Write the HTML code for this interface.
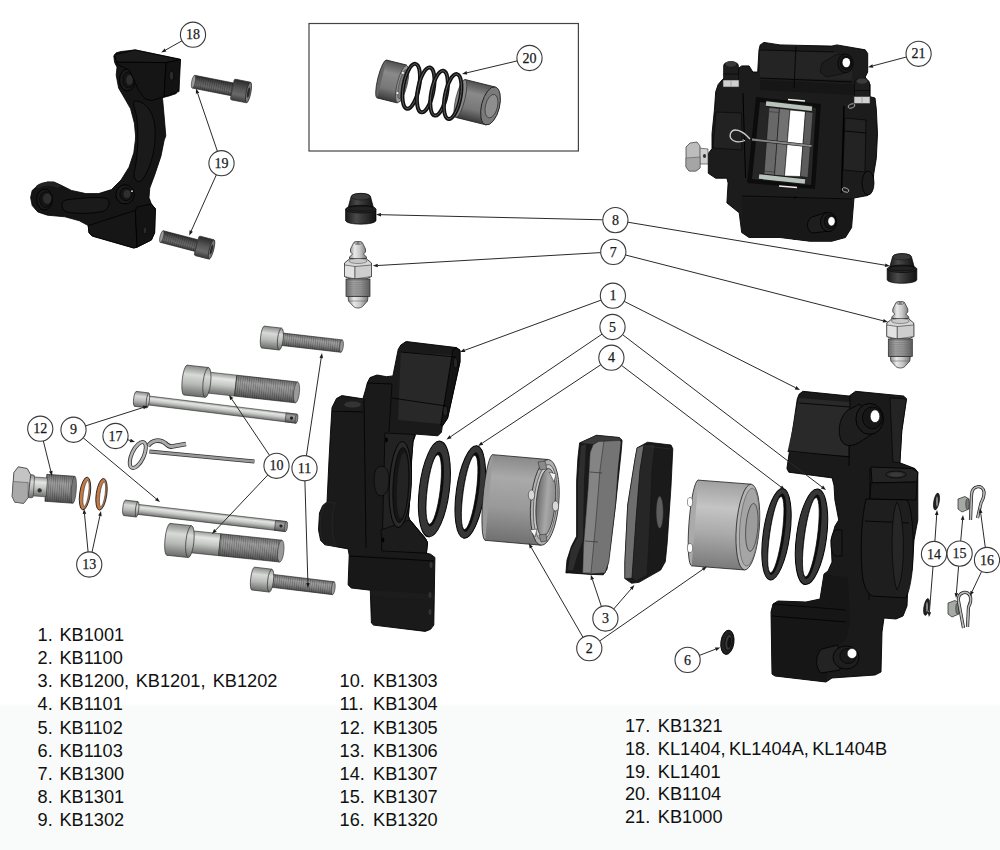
<!DOCTYPE html>
<html><head><meta charset="utf-8"><style>
html,body{margin:0;padding:0;width:1000px;height:850px;overflow:hidden;background:#fff}
svg{display:block}
.lst text{font-family:"Liberation Sans",sans-serif;font-size:18.2px;fill:#111}
.co circle{fill:#fff;stroke:#3a3a3a;stroke-width:1.1}
.co text{font-family:"Liberation Serif",serif;font-size:14px;fill:#1a1a1a;stroke:#1a1a1a;stroke-width:0.25;text-anchor:middle}
.ld line{stroke:#2a2a2a;stroke-width:1}
.ld .ah{fill:#1a1a1a}
</style></head><body>
<svg width="1000" height="850" viewBox="0 0 1000 850">
<defs>
<linearGradient id="bg" x1="0" y1="0" x2="0" y2="1">
<stop offset="0" stop-color="#ffffff"/><stop offset="1" stop-color="#f9fbfa"/>
</linearGradient>
</defs>
<rect x="0" y="0" width="1000" height="850" fill="#fff"/>
<rect x="0" y="703" width="1000" height="4" fill="url(#bg)"/>
<rect x="0" y="707" width="1000" height="143" fill="#f9fbfa"/>
<defs><linearGradient id="gMetal" x1="0" y1="0" x2="0" y2="1"><stop offset="0" stop-color="#9a9c9a"/><stop offset="0.25" stop-color="#e4e6e4"/><stop offset="0.55" stop-color="#c4c6c4"/><stop offset="1" stop-color="#6e706e"/></linearGradient><linearGradient id="gHead" x1="0" y1="0" x2="0" y2="1"><stop offset="0" stop-color="#8a8c8a"/><stop offset="0.3" stop-color="#d8dad8"/><stop offset="0.6" stop-color="#b8bab8"/><stop offset="1" stop-color="#6a6c6a"/></linearGradient><linearGradient id="gThread" x1="0" y1="0" x2="0" y2="1"><stop offset="0" stop-color="#6a6a6a"/><stop offset="0.3" stop-color="#a0a0a0"/><stop offset="0.6" stop-color="#8a8a8a"/><stop offset="1" stop-color="#505050"/></linearGradient><linearGradient id="gDarkT" x1="0" y1="0" x2="0" y2="1"><stop offset="0" stop-color="#3a3a3a"/><stop offset="0.3" stop-color="#6a6a6a"/><stop offset="0.6" stop-color="#5a5a5a"/><stop offset="1" stop-color="#2e2e2e"/></linearGradient><linearGradient id="gDark" x1="0" y1="0" x2="0" y2="1"><stop offset="0" stop-color="#3a3a3a"/><stop offset="0.3" stop-color="#6a6a6a"/><stop offset="0.6" stop-color="#555"/><stop offset="1" stop-color="#2a2a2a"/></linearGradient><linearGradient id="gPiston" x1="0" y1="0" x2="0" y2="1"><stop offset="0" stop-color="#7a7a7a"/><stop offset="0.3" stop-color="#b5b5b5"/><stop offset="0.65" stop-color="#a0a0a0"/><stop offset="1" stop-color="#6a6a6a"/></linearGradient><linearGradient id="gPistonH" x1="0" y1="0" x2="1" y2="0"><stop offset="0" stop-color="#7d7d7d"/><stop offset="0.35" stop-color="#a8a8a8"/><stop offset="0.7" stop-color="#b0b0b0"/><stop offset="1" stop-color="#8a8a8a"/></linearGradient><pattern id="thr" width="2.2" height="40" patternUnits="userSpaceOnUse"><rect width="2.2" height="40" fill="none"/><rect width="0.8" height="40" fill="#000" opacity="0.22"/></pattern><linearGradient id="gSpr" x1="0" y1="0" x2="0" y2="1"><stop offset="0" stop-color="#505050"/><stop offset="0.3" stop-color="#8a8a8a"/><stop offset="0.7" stop-color="#777"/><stop offset="1" stop-color="#3a3a3a"/></linearGradient><linearGradient id="gCap" x1="0" y1="0" x2="1" y2="0"><stop offset="0" stop-color="#1a1a1a"/><stop offset="0.35" stop-color="#4a4a4a"/><stop offset="0.6" stop-color="#333"/><stop offset="1" stop-color="#111"/></linearGradient><linearGradient id="gNip" x1="0" y1="0" x2="1" y2="0"><stop offset="0" stop-color="#8a8a8a"/><stop offset="0.3" stop-color="#e8e8e8"/><stop offset="0.6" stop-color="#c8c8c8"/><stop offset="1" stop-color="#777"/></linearGradient><linearGradient id="gNipT" x1="0" y1="0" x2="1" y2="0"><stop offset="0" stop-color="#6a6a6a"/><stop offset="0.3" stop-color="#a8a8a8"/><stop offset="0.6" stop-color="#999"/><stop offset="1" stop-color="#5a5a5a"/></linearGradient><linearGradient id="gPistV" x1="0" y1="0" x2="0" y2="1"><stop offset="0" stop-color="#8a8a8a"/><stop offset="0.25" stop-color="#a9a9a9"/><stop offset="0.6" stop-color="#999"/><stop offset="1" stop-color="#707070"/></linearGradient><linearGradient id="gPistR" x1="0" y1="0" x2="0" y2="1"><stop offset="0" stop-color="#a0a0a0"/><stop offset="0.3" stop-color="#c4c4c4"/><stop offset="0.6" stop-color="#aaa"/><stop offset="1" stop-color="#7a7a7a"/></linearGradient><linearGradient id="gCup" x1="0" y1="0" x2="1" y2="0"><stop offset="0" stop-color="#6a6a6a"/><stop offset="0.55" stop-color="#a8a8a8"/><stop offset="1" stop-color="#8a8a8a"/></linearGradient></defs>
<rect x="309" y="23.5" width="269.4" height="127.5" fill="none" stroke="#444" stroke-width="1.2"/>
<polygon points="113.8,56.0 116.2,52.8 121.0,51.5 135.4,49.9 180.2,59.2 179.4,72.0 176.2,93.6 169.0,96.0 162.6,97.6 162.6,99.2 164.2,116.8 165.8,136.0 164.2,140.0 161.0,156.0 154.6,175.2 149.8,188.0 149.0,197.6 151.4,204.0 155.4,208.8 154.6,232.8 151.4,240.0 137.0,247.2 133.8,248.0 92.2,236.0 89.0,232.8 88.2,225.6 79.4,220.8 65.0,216.8 47.4,215.2 37.8,212.0 32.2,205.6 30.6,197.6 32.2,190.4 37.8,185.6 47.4,181.9 53.8,181.9 60.2,184.8 71.4,190.4 85.8,193.6 98.6,193.6 111.4,189.6 121.0,180.0 129.0,167.2 133.8,152.8 135.4,140.0 135.6,136.0 134.4,123.2 130.6,108.8 124.2,97.6 118.6,88.0 116.2,75.2 117.0,67.2 114.6,62.4" fill="#151515" stroke="#000" stroke-width="0.8" stroke-linejoin="round" />
<ellipse cx="127.5" cy="80" rx="8" ry="11" fill="#1a1a1a" stroke="#000" stroke-width="0.9"/>
<ellipse cx="128.5" cy="80" rx="5.5" ry="8" fill="#151515" stroke="#000" stroke-width="0.6"/>
<ellipse cx="129.5" cy="80" rx="3.3" ry="5" fill="#2e2e2e"/>
<polygon points="114.5,54.8 134.8,49.9 180.5,59.6 166.2,62.6 116.8,62.2" fill="#1a1a1a" stroke="#000" stroke-width="0.8" stroke-linejoin="round" />
<polygon points="116.8,62.2 166.2,62.6 164.0,96.8 152.0,100.5 145.2,99.0 138.5,90.0 132.5,76.5 128.8,69.8 117.5,64.5" fill="#151515" stroke="#000" stroke-width="0.8" stroke-linejoin="round" />
<polygon points="166.2,62.6 180.5,59.6 179.0,91.5 164.0,96.8" fill="#121212" stroke="#000" stroke-width="0.8" stroke-linejoin="round" />
<ellipse cx="171.5" cy="75.75" rx="2.2" ry="4.5" fill="#2a2a2a" stroke="#000" stroke-width="0.6"/>
<path d="M 36,186 C 44,180 54,181 62,186 L 57,188 C 50,185 43,185 38,189 Z" fill="#222" />
<ellipse cx="44.5" cy="199.5" rx="7.8" ry="10.4" fill="#1a1a1a" stroke="#000" stroke-width="0.9"/>
<ellipse cx="45.5" cy="199.5" rx="5.8" ry="7.8" fill="#151515" stroke="#000" stroke-width="0.6"/>
<ellipse cx="47.3" cy="198.5" rx="4.2" ry="5.2" fill="#2e2e2e"/>
<ellipse cx="125" cy="194.4" rx="9.2" ry="9.6" fill="#1a1a1a" stroke="#000" stroke-width="0.9"/>
<ellipse cx="126" cy="194.2" rx="6" ry="6.5" fill="#151515" stroke="#000" stroke-width="0.6"/>
<ellipse cx="127" cy="194" rx="3.5" ry="4" fill="#2e2e2e"/>
<ellipse cx="132" cy="191.2" rx="0.9" ry="0.9" fill="#ddd"/>
<ellipse cx="144" cy="229.5" rx="1.8" ry="3.4" fill="#444"/>
<path d="M 135,101 C 145,101 154,112 155,128 C 156,145 153,163 143,179 C 139,184 134,181 134,174 C 137,160 139,140 137,120 C 136,110 131,101 135,101 Z" fill="#1a1a1a" stroke="#000" stroke-width="0.8" stroke-linejoin="round" />
<path d="M 66,200 C 80,198 96,197 105,198 C 111,199 110,208 104,211 C 92,214 78,214 67,212 C 61,211 60,201 66,200 Z" fill="#1a1a1a" stroke="#000" stroke-width="0.8" stroke-linejoin="round" />
<polygon points="88.2,225.6 135.4,210.4 137.0,247.2 133.8,248.0 92.2,236.0 89.0,232.8" fill="#161616" stroke="#000" stroke-width="0.8" stroke-linejoin="round" />
<polygon points="135.4,210.4 137.0,207.0 151.4,204.0 155.4,208.8 154.6,232.8 151.4,240.0 137.0,247.2" fill="#131313" stroke="#000" stroke-width="0.8" stroke-linejoin="round" />
<ellipse cx="145" cy="230.4" rx="1.8" ry="3.4" fill="#2a2a2a" stroke="#000" stroke-width="0.5"/>
<ellipse cx="144" cy="229.5" rx="0" ry="0" fill="none"/>
<g transform="translate(249.0,92.6) rotate(-168.89)">
<rect x="17" y="-6.5" width="39.58003126084598" height="13" fill="url(#gDarkT)" stroke="#222" stroke-width="0.6"/>
<rect x="17" y="-6.5" width="39.58003126084598" height="13" fill="url(#thr)"/>
<ellipse cx="56.58003126084598" cy="0" rx="1.8" ry="6.5" fill="#9a9a9a" stroke="#333" stroke-width="0.6"/>
<rect x="0" y="-10.5" width="17" height="21" rx="1.5" fill="url(#gDark)" stroke="#333" stroke-width="0.7"/>
<ellipse cx="0.5" cy="0" rx="2.3" ry="10.5" fill="#777" stroke="#222" stroke-width="0.7"/>
<ellipse cx="0.5" cy="0" rx="1.3" ry="5.2" fill="#2a2a2a"/>
</g>
<g transform="translate(212.0,249.6) rotate(-165.44)">
<rect x="16" y="-6.0" width="35.899243850928514" height="12" fill="url(#gDarkT)" stroke="#222" stroke-width="0.6"/>
<rect x="16" y="-6.0" width="35.899243850928514" height="12" fill="url(#thr)"/>
<ellipse cx="51.899243850928514" cy="0" rx="1.7" ry="6.0" fill="#9a9a9a" stroke="#333" stroke-width="0.6"/>
<rect x="0" y="-10.0" width="16" height="20" rx="1.5" fill="url(#gDark)" stroke="#333" stroke-width="0.7"/>
<ellipse cx="0.5" cy="0" rx="2.2" ry="10.0" fill="#777" stroke="#222" stroke-width="0.7"/>
<ellipse cx="0.5" cy="0" rx="1.2" ry="5.0" fill="#2a2a2a"/>
</g>
<g transform="translate(381.8,79.0) rotate(13.90)">
<ellipse cx="0" cy="0" rx="4" ry="19.5" fill="#666" stroke="#222" stroke-width="0.8"/>
<rect x="0" y="-19.5" width="21" height="39" fill="url(#gSpr)"/>
<line x1="0" y1="-19.5" x2="21" y2="-19.5" stroke="#222" stroke-width="0.8"/><line x1="0" y1="19.5" x2="21" y2="19.5" stroke="#222" stroke-width="0.8"/>
<ellipse cx="21" cy="0" rx="5" ry="19" fill="#9a9a9a" stroke="#333" stroke-width="0.7"/>
<ellipse cx="21.5" cy="0" rx="3.6" ry="15" fill="#7a7a7a" stroke="#333" stroke-width="0.5"/>
<circle cx="19" cy="-11" r="1.4" fill="#fff" stroke="#333" stroke-width="0.4"/><circle cx="18.5" cy="10" r="1.4" fill="#fff" stroke="#333" stroke-width="0.4"/>
<rect x="81" y="-19.5" width="31" height="39" fill="url(#gSpr)" stroke="#222" stroke-width="0.8"/>
<ellipse cx="81" cy="0" rx="4.5" ry="19.5" fill="#888" stroke="#333" stroke-width="0.7"/>
<ellipse cx="112" cy="0" rx="9" ry="19.5" fill="#7a7a7a" stroke="#222" stroke-width="0.9"/>
<ellipse cx="113" cy="0" rx="6" ry="12" fill="#8e8e8e" stroke="#333" stroke-width="0.7"/>
<ellipse cx="30.3" cy="0" rx="7.8" ry="22.8" fill="none" stroke="#111" stroke-width="4" transform="rotate(-3 30.3 0)"/>
<ellipse cx="30.3" cy="0" rx="7.8" ry="22.8" fill="none" stroke="#777" stroke-width="0.7" transform="rotate(-3 30.3 0)"/>
<ellipse cx="45.2" cy="0" rx="7.8" ry="22.8" fill="none" stroke="#111" stroke-width="4" transform="rotate(-3 45.2 0)"/>
<ellipse cx="45.2" cy="0" rx="7.8" ry="22.8" fill="none" stroke="#777" stroke-width="0.7" transform="rotate(-3 45.2 0)"/>
<ellipse cx="59" cy="0" rx="7.8" ry="22.8" fill="none" stroke="#111" stroke-width="4" transform="rotate(-3 59 0)"/>
<ellipse cx="59" cy="0" rx="7.8" ry="22.8" fill="none" stroke="#777" stroke-width="0.7" transform="rotate(-3 59 0)"/>
<ellipse cx="73" cy="0" rx="7.8" ry="22.8" fill="none" stroke="#111" stroke-width="4" transform="rotate(-3 73 0)"/>
<ellipse cx="73" cy="0" rx="7.8" ry="22.8" fill="none" stroke="#777" stroke-width="0.7" transform="rotate(-3 73 0)"/>
</g>
<polygon points="760.2,44.9 763.9,42.4 780.0,44.9 831.9,46.1 836.8,44.9 865.2,49.8 867.7,53.5 867.7,72.0 865.2,77.0 870.1,84.4 870.1,96.7 875.0,98.0 876.3,109.0 877.5,133.8 876.3,158.5 873.8,173.3 872.6,188.0 867.7,195.5 854.0,198.0 852.8,212.8 851.6,227.6 845.4,237.5 831.9,241.2 809.6,241.2 780.0,237.5 749.1,237.5 741.7,232.5 739.2,212.8 726.9,202.9 728.1,183.1 726.9,178.2 715.7,178.2 708.3,173.3 708.3,153.5 712.0,148.6 712.0,133.8 714.5,109.0 715.7,91.8 718.2,84.4 722.0,80.0 741.7,65.9 749.1,65.9 752.8,72.0 757.7,72.0 759.0,49.8" fill="#1c1c1c" stroke="#000" stroke-width="0.9" stroke-linejoin="round" />
<polygon points="760.0,50.0 834.0,52.0 852.0,60.0 852.0,80.0 760.0,78.0" fill="#242424" />
<polygon points="760.0,80.0 865.0,85.0 870.0,97.0 852.0,95.0 760.0,90.0" fill="#161616" />
<line x1="796" y1="46" x2="794" y2="88" stroke="#000" stroke-width="0.8"/>
<line x1="760" y1="78" x2="852" y2="82" stroke="#000" stroke-width="0.8"/>
<line x1="760" y1="50" x2="834" y2="52" stroke="#000" stroke-width="0.7"/>
<line x1="742" y1="196" x2="852" y2="199" stroke="#000" stroke-width="0.8"/>
<line x1="795" y1="196" x2="794" y2="240" stroke="#000" stroke-width="0.8"/>
<polygon points="742.0,198.0 852.0,200.0 851.6,227.6 845.4,237.5 831.9,241.2 809.6,241.2 780.0,237.5 749.1,237.5 741.7,232.5" fill="#181818" />
<polygon points="845.0,118.0 866.0,120.0 865.0,172.0 843.0,170.0" fill="#232323" stroke="#000" stroke-width="0.6" stroke-linejoin="round" />
<line x1="845" y1="131" x2="866" y2="133" stroke="#000" stroke-width="0.8"/>
<line x1="844" y1="106" x2="841.5" y2="193" stroke="#000" stroke-width="1.4"/>
<ellipse cx="868" cy="183" rx="6" ry="12" fill="#1c1c1c" stroke="#000" stroke-width="0.8"/>
<ellipse cx="851.5" cy="106" rx="3.5" ry="2" fill="none" stroke="#aaa" stroke-width="0.9" transform="rotate(-20 851.5 106)"/>
<ellipse cx="845.5" cy="190" rx="3.5" ry="2" fill="none" stroke="#aaa" stroke-width="0.9" transform="rotate(20 845.5 190)"/>
<polygon points="756.0,97.0 821.0,104.0 815.0,189.0 747.0,183.0" fill="#0c0c0c" />
<polygon points="760.0,102.0 816.0,108.0 811.0,185.0 752.0,179.0" fill="#262626" />
<polygon points="769.0,107.5 779.5,108.5 774.5,175.5 764.0,174.5" fill="#686868" stroke="#111" stroke-width="0.5" stroke-linejoin="round" />
<polygon points="779.5,108.5 790.0,109.5 784.5,176.0 774.5,175.5" fill="#717171" stroke="#111" stroke-width="0.5" stroke-linejoin="round" />
<polygon points="790.0,110.0 805.5,111.5 800.5,176.5 784.5,176.0" fill="#ffffff" stroke="#111" stroke-width="0.5" stroke-linejoin="round" />
<polygon points="805.5,111.5 813.0,112.5 808.0,177.5 800.5,176.5" fill="#5c5c5c" stroke="#111" stroke-width="0.5" stroke-linejoin="round" />
<line x1="768" y1="111.5" x2="779" y2="112.5" stroke="#333" stroke-width="0.6"/>
<line x1="763" y1="171" x2="774" y2="172" stroke="#333" stroke-width="0.6"/>
<line x1="766" y1="103.5" x2="812" y2="108.8" stroke="#1a1a1a" stroke-width="6.6"/>
<line x1="766" y1="103.5" x2="812" y2="108.8" stroke="#b7c3bb" stroke-width="4.6"/>
<line x1="759" y1="176.5" x2="805" y2="181.5" stroke="#1a1a1a" stroke-width="6.6"/>
<line x1="759" y1="176.5" x2="805" y2="181.5" stroke="#b7c3bb" stroke-width="4.6"/>
<line x1="788" y1="99.5" x2="805" y2="101" stroke="#eee" stroke-width="1.5"/>
<line x1="779" y1="186" x2="797" y2="187.5" stroke="#eee" stroke-width="1.5"/>
<line x1="752" y1="139.5" x2="811.5" y2="146" stroke="#222" stroke-width="3.2"/>
<line x1="752" y1="139.5" x2="811.5" y2="146" stroke="#8a8a8a" stroke-width="1.8"/>
<path d="M 749,138 C 742,130 733,128 731,134 C 729,140 736,143 744,140" fill="none" stroke="#ccc" stroke-width="1.5" stroke-linejoin="round" />
<path d="M 826,212.5 L 812,217 C 806,220 806,230 812,233 L 830,231 Z" fill="#1e1e1e" stroke="#000" stroke-width="0.8" stroke-linejoin="round" />
<ellipse cx="828.5" cy="222" rx="8" ry="9.5" fill="#1c1c1c" stroke="#000" stroke-width="0.9"/>
<ellipse cx="830" cy="221.6" rx="5.8" ry="7" fill="#151515" stroke="#000" stroke-width="0.6"/>
<ellipse cx="831.5" cy="221.3" rx="3.6" ry="4.6" fill="#fff" stroke="#000" stroke-width="0.5"/>
<line x1="743" y1="93" x2="745.5" y2="178" stroke="#000" stroke-width="1.0"/>
<polygon points="716.0,112.0 741.5,113.0 742.0,150.0 713.0,148.0" fill="#222" stroke="#000" stroke-width="0.5" stroke-linejoin="round" />
<path d="M 723.5,80 L 723.5,66 C 723.5,60 738.5,60 738.5,66 L 738.5,80 Z" fill="#1e1e1e" stroke="#000" stroke-width="0.6" stroke-linejoin="round" />
<ellipse cx="731" cy="64" rx="5.5" ry="2.8" fill="#3a3a3a"/>
<line x1="723.5" y1="74" x2="738.5" y2="74" stroke="#000" stroke-width="0.6"/>
<polygon points="723.0,80.0 739.0,80.0 739.0,87.0 723.0,87.0" fill="#d0d0d0" stroke="#333" stroke-width="0.6" stroke-linejoin="round" />
<line x1="731" y1="80" x2="731" y2="87" stroke="#888" stroke-width="0.6"/>
<path d="M 854.5,96.5 L 854.5,83 C 854.5,77 869.5,77 869.5,83 L 869.5,96.5 Z" fill="#1e1e1e" stroke="#000" stroke-width="0.6" stroke-linejoin="round" />
<ellipse cx="862" cy="81" rx="5.5" ry="2.8" fill="#3a3a3a"/>
<line x1="854.5" y1="90.5" x2="869.5" y2="90.5" stroke="#000" stroke-width="0.6"/>
<polygon points="854.0,96.5 870.0,96.5 870.0,103.5 854.0,103.5" fill="#d0d0d0" stroke="#333" stroke-width="0.6" stroke-linejoin="round" />
<line x1="862" y1="96.5" x2="862" y2="103.5" stroke="#888" stroke-width="0.6"/>
<polygon points="699.0,148.0 708.0,149.0 708.0,164.0 699.0,164.0" fill="#cfcfcf" stroke="#333" stroke-width="0.6" stroke-linejoin="round" />
<ellipse cx="704.5" cy="156" rx="1.6" ry="2" fill="#333"/>
<polygon points="686.0,147.0 690.0,143.0 697.0,142.0 700.0,146.0 700.0,168.0 696.0,171.0 689.0,171.0 686.0,167.0" fill="#bdbdbd" stroke="#333" stroke-width="0.7" stroke-linejoin="round" />
<polygon points="686.0,158.0 700.0,157.0 700.0,168.0 696.0,171.0 689.0,171.0 686.0,167.0" fill="#a5a5a5" stroke="#444" stroke-width="0.5" stroke-linejoin="round" />
<polygon points="835.0,55.0 845.0,54.0 852.0,60.0 851.0,70.0 842.0,74.0 826.0,77.0 820.0,72.0 822.0,63.0" fill="#1d1d1d" stroke="#0a0a0a" stroke-width="0.6" stroke-linejoin="round" />
<ellipse cx="845.5" cy="63.4" rx="7.6" ry="9.3" fill="#1a1a1a" stroke="#000" stroke-width="0.7"/>
<ellipse cx="846" cy="63" rx="5.5" ry="6.8" fill="#141414" stroke="#000" stroke-width="0.5"/>
<ellipse cx="846.3" cy="62.6" rx="3.8" ry="4.7" fill="#fff"/>
<path d="M 351.072,196.76399999999998 C 351.68,192.2 369.92,192.2 370.528,196.76399999999998 L 373.872,209.152 L 347.728,209.152 Z" fill="url(#gCap)" stroke="#000" stroke-width="0.7" stroke-linejoin="round" />
<ellipse cx="360.8" cy="196.76399999999998" rx="9.424" ry="3.2600000000000002" fill="#3a3a3a" stroke="#111" stroke-width="0.5"/>
<path d="M 345.6,209.152 L 376.0,209.152 L 376.0,220.236 C 376.0,225.452 345.6,225.452 345.6,220.236 Z" fill="url(#gCap)" stroke="#000" stroke-width="0.7" stroke-linejoin="round" />
<ellipse cx="360.8" cy="209.152" rx="15.2" ry="3.912" fill="#2a2a2a" stroke="#000" stroke-width="0.6"/>
<ellipse cx="360.8" cy="208.652" rx="13.072" ry="2.608" fill="#222" stroke="#000" stroke-width="0.5"/>
<path d="M 892.528,256.896 C 893.12,252.5 910.88,252.5 911.4720000000001,256.896 L 914.7280000000001,268.828 L 889.272,268.828 Z" fill="url(#gCap)" stroke="#000" stroke-width="0.7" stroke-linejoin="round" />
<ellipse cx="902.0" cy="256.896" rx="9.176" ry="3.14" fill="#3a3a3a" stroke="#111" stroke-width="0.5"/>
<path d="M 887.2,268.828 L 916.8000000000001,268.828 L 916.8000000000001,279.504 C 916.8000000000001,284.528 887.2,284.528 887.2,279.504 Z" fill="url(#gCap)" stroke="#000" stroke-width="0.7" stroke-linejoin="round" />
<ellipse cx="902.0" cy="268.828" rx="14.8" ry="3.768" fill="#2a2a2a" stroke="#000" stroke-width="0.6"/>
<ellipse cx="902.0" cy="268.328" rx="12.728" ry="2.512" fill="#222" stroke="#000" stroke-width="0.5"/>
<path d="M 353.5,243 C 353.5,241 362.5,241 362.5,243 L 365.5,249 L 365.5,252 L 363.5,254 L 366.5,257 L 366.5,261 L 349.5,261 L 349.5,257 L 352.5,254 L 350.5,252 L 350.5,249 Z" fill="url(#gNip)" stroke="#222" stroke-width="0.7" stroke-linejoin="round" />
<ellipse cx="358" cy="243" rx="3.6" ry="1.5" fill="#ccc" stroke="#333" stroke-width="0.5"/>
<ellipse cx="358" cy="243" rx="1.8" ry="0.8" fill="#555"/>
<path d="M 344.5,263 L 350,258.5 L 366,258.5 L 371.5,263 L 371.5,276.5 L 366,279 L 350,279 L 344.5,276.5 Z" fill="#d6d6d6" stroke="#222" stroke-width="0.8" stroke-linejoin="round" />
<ellipse cx="358" cy="261" rx="9" ry="2.5" fill="#c8c8c8" stroke="#444" stroke-width="0.5"/>
<polygon points="344.5,265.0 355.0,266.5 355.0,279.0 344.5,276.5" fill="#e2e2e2" stroke="#333" stroke-width="0.6" stroke-linejoin="round" />
<polygon points="355.0,266.5 371.5,265.0 371.5,276.5 355.0,279.0" fill="#cdcdcd" stroke="#333" stroke-width="0.6" stroke-linejoin="round" />
<rect x="346" y="279" width="24" height="17.5" fill="url(#gNipT)" stroke="#222" stroke-width="0.7"/>
<line x1="346" y1="280.5" x2="370" y2="280.5" stroke="#666" stroke-width="0.45"/>
<line x1="346" y1="282.4" x2="370" y2="282.4" stroke="#666" stroke-width="0.45"/>
<line x1="346" y1="284.3" x2="370" y2="284.3" stroke="#666" stroke-width="0.45"/>
<line x1="346" y1="286.2" x2="370" y2="286.2" stroke="#666" stroke-width="0.45"/>
<line x1="346" y1="288.1" x2="370" y2="288.1" stroke="#666" stroke-width="0.45"/>
<line x1="346" y1="290.0" x2="370" y2="290.0" stroke="#666" stroke-width="0.45"/>
<line x1="346" y1="291.9" x2="370" y2="291.9" stroke="#666" stroke-width="0.45"/>
<line x1="346" y1="293.8" x2="370" y2="293.8" stroke="#666" stroke-width="0.45"/>
<line x1="346" y1="295.7" x2="370" y2="295.7" stroke="#666" stroke-width="0.45"/>
<path d="M 348,296.5 L 368,296.5 L 367.5,301 L 362.5,306.5 C 360,308.5 356,308.5 353.5,306.5 L 348.5,301 Z" fill="url(#gNip)" stroke="#222" stroke-width="0.7" stroke-linejoin="round" />
<line x1="348.5" y1="301" x2="367.5" y2="301" stroke="#555" stroke-width="0.5"/>
<path d="M 895.8,303 C 895.8,301 904.8,301 904.8,303 L 907.8,309 L 907.8,312 L 905.8,314 L 908.8,317 L 908.8,321 L 891.8,321 L 891.8,317 L 894.8,314 L 892.8,312 L 892.8,309 Z" fill="url(#gNip)" stroke="#222" stroke-width="0.7" stroke-linejoin="round" />
<ellipse cx="900.3" cy="303" rx="3.6" ry="1.5" fill="#ccc" stroke="#333" stroke-width="0.5"/>
<ellipse cx="900.3" cy="303" rx="1.8" ry="0.8" fill="#555"/>
<path d="M 886.8,323 L 892.3,318.5 L 908.3,318.5 L 913.8,323 L 913.8,336.5 L 908.3,339 L 892.3,339 L 886.8,336.5 Z" fill="#d6d6d6" stroke="#222" stroke-width="0.8" stroke-linejoin="round" />
<ellipse cx="900.3" cy="321" rx="9" ry="2.5" fill="#c8c8c8" stroke="#444" stroke-width="0.5"/>
<polygon points="886.8,325.0 897.3,326.5 897.3,339.0 886.8,336.5" fill="#e2e2e2" stroke="#333" stroke-width="0.6" stroke-linejoin="round" />
<polygon points="897.3,326.5 913.8,325.0 913.8,336.5 897.3,339.0" fill="#cdcdcd" stroke="#333" stroke-width="0.6" stroke-linejoin="round" />
<rect x="888.3" y="339" width="24" height="17.5" fill="url(#gNipT)" stroke="#222" stroke-width="0.7"/>
<line x1="888.3" y1="340.5" x2="912.3" y2="340.5" stroke="#666" stroke-width="0.45"/>
<line x1="888.3" y1="342.4" x2="912.3" y2="342.4" stroke="#666" stroke-width="0.45"/>
<line x1="888.3" y1="344.3" x2="912.3" y2="344.3" stroke="#666" stroke-width="0.45"/>
<line x1="888.3" y1="346.2" x2="912.3" y2="346.2" stroke="#666" stroke-width="0.45"/>
<line x1="888.3" y1="348.1" x2="912.3" y2="348.1" stroke="#666" stroke-width="0.45"/>
<line x1="888.3" y1="350.0" x2="912.3" y2="350.0" stroke="#666" stroke-width="0.45"/>
<line x1="888.3" y1="351.9" x2="912.3" y2="351.9" stroke="#666" stroke-width="0.45"/>
<line x1="888.3" y1="353.8" x2="912.3" y2="353.8" stroke="#666" stroke-width="0.45"/>
<line x1="888.3" y1="355.7" x2="912.3" y2="355.7" stroke="#666" stroke-width="0.45"/>
<path d="M 890.3,356.5 L 910.3,356.5 L 909.8,361 L 904.8,366.5 C 902.3,368.5 898.3,368.5 895.8,366.5 L 890.8,361 Z" fill="url(#gNip)" stroke="#222" stroke-width="0.7" stroke-linejoin="round" />
<line x1="890.8" y1="361" x2="909.8" y2="361" stroke="#555" stroke-width="0.5"/>
<polygon points="332.0,407.6 336.5,398.5 341.8,395.6 362.9,398.8 365.5,390.0 367.3,382.9 370.0,377.6 377.0,375.0 386.7,376.7 392.9,375.9 398.2,349.4 400.8,345.0 406.1,341.5 456.4,347.6 460.0,350.3 460.0,361.8 447.6,418.2 442.3,426.1 441.4,432.3 437.9,435.8 415.8,434.1 413.0,442.0 411.6,460.0 410.5,490.0 408.4,516.1 409.5,519.3 425.3,538.3 427.5,542.5 426.4,553.1 430.6,554.2 434.9,557.4 433.8,625.1 430.6,629.3 425.3,631.4 373.5,625.1 371.4,623.0 370.3,590.2 351.3,588.0 348.1,584.9 349.2,555.2 348.1,548.9 324.8,544.7 320.6,540.4 318.5,529.8 319.5,512.9 322.7,505.5 327.0,502.3 329.0,460.0 330.3,435.8" fill="#1a1a1a" stroke="#000" stroke-width="0.9" stroke-linejoin="round" />
<polygon points="400.8,352.0 452.0,355.0 441.0,424.0 398.0,420.0" fill="#282828" />
<polygon points="452.9,349.9 456.4,347.6 460.0,350.3 460.0,361.8 447.6,418.2 442.3,426.1 440.7,424.9" fill="#141414" stroke="#000" stroke-width="0.8" stroke-linejoin="round" />
<ellipse cx="455.5" cy="363" rx="2.2" ry="5" fill="#262626" stroke="#000" stroke-width="0.6"/>
<ellipse cx="445.3" cy="411" rx="2.2" ry="5" fill="#262626" stroke="#000" stroke-width="0.6"/>
<line x1="401" y1="352" x2="456" y2="357" stroke="#000" stroke-width="0.8"/>
<line x1="392" y1="398" x2="446" y2="406" stroke="#000" stroke-width="0.8"/>
<line x1="364" y1="399" x2="366" y2="548" stroke="#000" stroke-width="0.8"/>
<line x1="332" y1="411" x2="363" y2="412" stroke="#000" stroke-width="0.8"/>
<line x1="367" y1="383" x2="392" y2="384" stroke="#000" stroke-width="0.8"/>
<line x1="392" y1="384" x2="389" y2="432" stroke="#000" stroke-width="0.7"/>
<polygon points="332.0,407.6 336.5,398.5 362.9,398.8 362.0,410.0 333.0,411.0" fill="#1c1c1c" />
<ellipse cx="352.5" cy="404.5" rx="8" ry="2.6" fill="#333" stroke="#444" stroke-width="0.5"/>
<polygon points="370.0,590.0 370.0,596.0 433.8,600.0 433.8,594.0" fill="#1c1c1c" />
<polygon points="349.2,555.2 370.0,555.0 426.4,560.0 434.9,560.0 434.0,594.0 370.0,590.0 349.0,585.0" fill="#181818" />
<line x1="349" y1="556" x2="434" y2="561" stroke="#000" stroke-width="0.8"/>
<path d="M 327,502 C 319,505 318,540 324.8,544.7 L 336,546 C 331,538 331,508 336,503 Z" fill="#1b1b1b" stroke="#2c2c2c" stroke-width="0.6" stroke-linejoin="round" />
<polygon points="385.0,433.0 414.5,434.5 413.0,442.0 411.6,460.0 410.5,490.0 408.4,516.1 409.5,519.3 425.3,538.3 427.5,542.5 426.4,553.1 382.0,550.0" fill="#222" stroke="#000" stroke-width="0.7" stroke-linejoin="round" />
<polygon points="381.0,530.0 409.0,520.0 425.3,538.3 427.5,542.5 426.4,553.1 382.0,551.0" fill="#1c1c1c" stroke="#000" stroke-width="0.6" stroke-linejoin="round" />
<path d="M 377,468 C 383,464 389,467 389,480 C 389,492 384,498 378,495 C 373,490 373,472 377,468 Z" fill="#222" stroke="#000" stroke-width="0.6" stroke-linejoin="round" />
<ellipse cx="400.3" cy="484.5" rx="11" ry="43" fill="#2a2a2a" stroke="#000" stroke-width="0.9" transform="rotate(3 400.3 484.5)"/>
<ellipse cx="401" cy="485" rx="8" ry="37.5" fill="#151515" stroke="#000" stroke-width="0.6" transform="rotate(3 401 485)"/>
<ellipse cx="402.5" cy="485.5" rx="5.5" ry="33" fill="#232323" transform="rotate(3 402.5 485.5)"/>
<ellipse cx="386.5" cy="440" rx="1.3" ry="2.4" fill="#000"/>
<ellipse cx="383" cy="540" rx="1.3" ry="2.4" fill="#000"/>
<ellipse cx="431" cy="565" rx="1.5" ry="3" fill="#333"/>
<ellipse cx="430" cy="595" rx="1.5" ry="3" fill="#333"/>
<ellipse cx="430" cy="612" rx="1.5" ry="3" fill="#333"/>
<polygon points="799.2,394.1 802.9,391.3 849.1,396.0 855.6,391.3 903.6,396.0 906.5,398.8 901.8,430.8 899.9,462.8 914.9,468.5 917.8,472.2 917.8,520.0 914.0,540.0 912.0,570.0 908.0,584.0 907.0,606.0 903.0,616.0 896.0,619.0 884.0,618.0 882.0,632.0 881.0,672.0 875.0,675.0 832.0,678.0 826.0,682.0 775.0,676.0 772.0,674.0 771.0,612.0 773.0,604.0 778.0,601.0 806.0,602.0 820.0,599.0 824.0,574.0 828.0,571.0 832.0,562.0 831.0,540.0 835.0,526.0 838.7,520.0 836.8,510.0 834.9,500.0 834.0,485.4 832.1,477.9 788.8,472.2 786.9,468.5 797.3,398.8" fill="#1a1a1a" stroke="#000" stroke-width="0.9" stroke-linejoin="round" />
<polygon points="799.0,398.0 850.0,402.0 848.0,456.0 787.5,452.0" fill="#292929" />
<line x1="799" y1="403" x2="850" y2="407" stroke="#000" stroke-width="0.8"/>
<line x1="788" y1="451" x2="850" y2="457" stroke="#000" stroke-width="0.8"/>
<line x1="850" y1="396" x2="849" y2="466" stroke="#000" stroke-width="0.8"/>
<line x1="870" y1="468" x2="869" y2="600" stroke="#000" stroke-width="0.7"/>
<polygon points="890.0,398.0 906.5,398.8 901.8,430.8 899.9,462.8 893.0,462.0" fill="#242424" stroke="#000" stroke-width="0.6" stroke-linejoin="round" />
<path d="M 860,404 L 848,410 C 840,416 837,430 841,440 C 844,447 852,447 860,442 L 878,430 Z" fill="#1e1e1e" stroke="#000" stroke-width="0.8" stroke-linejoin="round" />
<ellipse cx="869.7" cy="418.9" rx="13.8" ry="15.4" fill="#1c1c1c" stroke="#000" stroke-width="0.9"/>
<ellipse cx="872.4" cy="417.8" rx="10" ry="11" fill="#161616" stroke="#000" stroke-width="0.7"/>
<ellipse cx="875" cy="416.2" rx="4.8" ry="6.4" fill="#fff" stroke="#000" stroke-width="0.6"/>
<polygon points="871.0,467.0 912.0,468.5 917.8,472.2 917.0,482.0 872.0,483.0" fill="#242424" stroke="#000" stroke-width="0.8" stroke-linejoin="round" />
<ellipse cx="896" cy="474.5" rx="10" ry="3.4" fill="#2e2e2e" stroke="#000" stroke-width="0.7"/>
<ellipse cx="896" cy="474.5" rx="6" ry="2" fill="#3a3a3a"/>
<polygon points="871.0,483.0 917.0,482.0 916.0,500.0 870.0,499.0" fill="#1a1a1a" stroke="#000" stroke-width="0.7" stroke-linejoin="round" />
<path d="M 866,499 C 862,515 860,545 862,570 C 863,585 866,592 872,596 L 906,598 C 912,585 914,560 913,535 C 912,515 910,505 907,500 Z" fill="#1e1e1e" stroke="#000" stroke-width="0.8" stroke-linejoin="round" />
<line x1="865" y1="521" x2="909" y2="523" stroke="#000" stroke-width="0.8"/>
<path d="M 897,502 C 905,515 906,575 897,590 C 891,575 890,515 897,502 Z" fill="#262626" stroke="#000" stroke-width="0.6" stroke-linejoin="round" />
<path d="M 836,530 C 830,532 829,552 835,556 L 842,556 L 842,530 Z" fill="#1c1c1c" stroke="#000" stroke-width="0.7" stroke-linejoin="round" />
<polygon points="771.0,612.0 773.0,604.0 778.0,601.0 806.0,602.0 820.0,599.0 824.0,574.0 848.0,578.0 850.0,622.0 846.0,640.0 830.0,650.0 826.0,682.0 775.0,676.0 772.0,674.0" fill="#161616" />
<line x1="772" y1="616" x2="846" y2="622" stroke="#000" stroke-width="0.8"/>
<line x1="773" y1="604" x2="846" y2="610" stroke="#000" stroke-width="0.7"/>
<path d="M 838,645 L 822,649 C 815,654 815,668 821,673 L 840,670 Z" fill="#232323" stroke="#000" stroke-width="0.8" stroke-linejoin="round" />
<ellipse cx="846" cy="657.5" rx="13" ry="11.5" fill="#1e1e1e" stroke="#000" stroke-width="0.8"/>
<ellipse cx="848" cy="656" rx="8.2" ry="7.5" fill="#191919" stroke="#000" stroke-width="0.6"/>
<ellipse cx="852" cy="653.5" rx="4.8" ry="5" fill="#fff" stroke="#000" stroke-width="0.5"/>
<g transform="rotate(7 434.4 489)">
<ellipse cx="434.4" cy="489" rx="15" ry="48.2" fill="#363636" stroke="#000" stroke-width="1"/>
<ellipse cx="434.7" cy="489" rx="8.1" ry="37.6" fill="#0c0c0c"/>
<ellipse cx="433.79999999999995" cy="489.5" rx="6.5" ry="35.0" fill="#fff" stroke="#000" stroke-width="0.7"/>
</g>
<g transform="rotate(8 470.3 492)">
<ellipse cx="470.3" cy="492" rx="14" ry="46.6" fill="#363636" stroke="#000" stroke-width="1"/>
<ellipse cx="470.6" cy="492" rx="8.1" ry="40.1" fill="#0c0c0c"/>
<ellipse cx="469.7" cy="492.5" rx="6.5" ry="37.5" fill="#fff" stroke="#000" stroke-width="0.7"/>
</g>
<g transform="rotate(8 776.5 534.2)">
<ellipse cx="776.5" cy="534.2" rx="13.3" ry="46.2" fill="#363636" stroke="#000" stroke-width="1"/>
<ellipse cx="776.8" cy="534.2" rx="7.8" ry="41.1" fill="#0c0c0c"/>
<ellipse cx="775.9" cy="534.7" rx="6.2" ry="38.5" fill="#fff" stroke="#000" stroke-width="0.7"/>
</g>
<g transform="rotate(7.7 811.5 536.8)">
<ellipse cx="811.5" cy="536.8" rx="15" ry="48.2" fill="#363636" stroke="#000" stroke-width="1"/>
<ellipse cx="811.8" cy="536.8" rx="8.1" ry="42.6" fill="#0c0c0c"/>
<ellipse cx="810.9" cy="537.3" rx="6.5" ry="40.0" fill="#fff" stroke="#000" stroke-width="0.7"/>
</g>
<g transform="translate(489.0,497.5) rotate(5.00)">
<ellipse cx="0" cy="0" rx="6" ry="43" fill="#9a9a9a" stroke="#222" stroke-width="0.8"/>
<rect x="0" y="-43" width="56" height="86" fill="url(#gPistV)"/>
<line x1="0" y1="-43" x2="56" y2="-43" stroke="#222" stroke-width="0.8"/><line x1="0" y1="43" x2="56" y2="43" stroke="#222" stroke-width="0.8"/>
<ellipse cx="56" cy="0" rx="14" ry="43" fill="#b0b0b0" stroke="#222" stroke-width="0.8"/>
<ellipse cx="56.5" cy="0" rx="11.5" ry="38" fill="#c8c8c8" stroke="#333" stroke-width="0.6"/>
<ellipse cx="57" cy="0" rx="9.5" ry="34" fill="url(#gCup)" stroke="#222" stroke-width="0.7"/>
</g>
<ellipse cx="531.5" cy="495" rx="3.2" ry="5" fill="#d8d8d8" stroke="#222" stroke-width="0.5"/>
<ellipse cx="555.5" cy="506" rx="3.2" ry="5" fill="#d8d8d8" stroke="#222" stroke-width="0.5"/>
<polygon points="549.0,472.0 556.0,474.0 554.0,482.0" fill="#f4f4f4" stroke="#222" stroke-width="0.5" stroke-linejoin="round" />
<polygon points="530.0,530.0 537.0,529.0 535.0,537.0" fill="#f4f4f4" stroke="#222" stroke-width="0.5" stroke-linejoin="round" />
<polygon points="538.0,462.0 545.0,461.0 547.0,469.0 540.0,470.0" fill="#8a8a8a" stroke="#222" stroke-width="0.5" stroke-linejoin="round" />
<polygon points="539.0,535.0 546.0,534.0 547.0,541.0 541.0,542.0" fill="#8a8a8a" stroke="#222" stroke-width="0.5" stroke-linejoin="round" />
<g transform="translate(695.0,523.0) rotate(4.40)">
<ellipse cx="0" cy="0" rx="6" ry="43" fill="#aaa" stroke="#222" stroke-width="0.8"/>
<rect x="0" y="-43" width="53" height="86" fill="url(#gPistR)"/>
<line x1="0" y1="-43" x2="53" y2="-43" stroke="#222" stroke-width="0.8"/><line x1="0" y1="43" x2="53" y2="43" stroke="#222" stroke-width="0.8"/>
<ellipse cx="53" cy="0" rx="11.5" ry="43" fill="#b3b3b3" stroke="#222" stroke-width="0.8"/>
<ellipse cx="54.5" cy="0" rx="9.5" ry="39" fill="#a5a5a5" stroke="#555" stroke-width="0.6"/>
<ellipse cx="57" cy="0" rx="6" ry="24" fill="#9c9c9c" stroke="#333" stroke-width="0.7"/>
</g>
<ellipse cx="690" cy="502" rx="2.6" ry="4.5" fill="#fff" stroke="#333" stroke-width="0.5"/>
<ellipse cx="690" cy="548" rx="2.6" ry="4.5" fill="#fff" stroke="#333" stroke-width="0.5"/>
<polygon points="579.6,443.0 596.5,435.3 619.2,437.5 622.1,440.3 621.1,452.6 615.5,505.2 610.8,542.8 607.0,569.2 603.3,574.8 590.3,574.4 569.4,572.9 565.9,572.9 567.0,560.0 571.3,546.6 576.6,536.2 576.6,481.2 577.9,458.2" fill="#1a1a1a" stroke="#000" stroke-width="0.8" stroke-linejoin="round" />
<polygon points="581.0,446.0 586.0,444.0 584.0,480.0 583.0,540.0 577.0,556.0 573.0,570.0 568.0,570.0 571.0,550.0 578.0,537.0 578.0,482.0" fill="#2e2e2e" />
<polygon points="593.4,444.0 598.6,440.3 619.2,438.5 621.1,442.2 618.3,467.6 615.5,505.2 608.9,561.7 605.1,572.9 590.0,574.0 582.7,572.9 583.5,546.6 588.2,486.4 590.1,452.6" fill="#747474" stroke="#111" stroke-width="0.6" stroke-linejoin="round" />
<polygon points="593.4,444.0 598.6,440.3 604.0,440.0 600.0,470.0 596.0,520.0 591.0,573.0 582.7,572.9 583.5,546.6 588.2,486.4 590.1,452.6" fill="#848484" stroke="#222" stroke-width="0.5" stroke-linejoin="round" />
<polygon points="596.5,435.3 619.2,437.5 622.1,440.3 598.6,441.5 593.4,444.5 579.6,443.0" fill="#3a3a3a" stroke="#111" stroke-width="0.4" stroke-linejoin="round" />
<line x1="590" y1="472" x2="602" y2="473" stroke="#333" stroke-width="0.7"/>
<line x1="585" y1="541" x2="598" y2="542" stroke="#333" stroke-width="0.7"/>
<polygon points="637.1,447.9 647.5,442.2 671.0,445.0 672.8,448.8 671.0,486.4 667.2,542.8 665.3,561.7 660.6,570.1 639.0,582.3 631.5,583.3 624.9,578.6 624.9,561.7 627.7,505.2 635.2,458.2" fill="#1a1a1a" stroke="#000" stroke-width="0.8" stroke-linejoin="round" />
<polygon points="637.1,447.9 644.0,445.0 640.0,470.0 636.0,520.0 632.0,578.0 624.9,578.6 624.9,561.7 627.7,505.2 635.2,458.2" fill="#6e6e6e" stroke="#111" stroke-width="0.5" stroke-linejoin="round" />
<polygon points="644.0,445.0 655.0,444.0 652.0,470.0 650.0,520.0 647.0,575.0 636.0,581.0 632.0,578.0 636.0,520.0 640.0,470.0" fill="#262626" stroke="#111" stroke-width="0.4" stroke-linejoin="round" />
<ellipse cx="659.7" cy="512.3" rx="3.6" ry="16" fill="#5e5e5e" stroke="#222" stroke-width="0.5"/>
<line x1="644" y1="446" x2="671" y2="449" stroke="#333" stroke-width="0.6"/>
<g transform="translate(262.5,337.0) rotate(6.56)">
<rect x="18" y="-6.25" width="61.527262464335635" height="12.5" fill="url(#gThread)" stroke="#222" stroke-width="0.6"/>
<rect x="18" y="-6.25" width="61.527262464335635" height="12.5" fill="url(#thr)"/>
<ellipse cx="79.52726246433564" cy="0" rx="1.8" ry="6.25" fill="#9a9a9a" stroke="#333" stroke-width="0.6"/>
<ellipse cx="0.5" cy="0" rx="2.4" ry="11.0" fill="url(#gHead)" stroke="#333" stroke-width="0.7"/>
<rect x="0.5" y="-11.0" width="17.5" height="22" fill="url(#gHead)"/>
<line x1="0.5" y1="-11.0" x2="18" y2="-11.0" stroke="#333" stroke-width="0.7"/><line x1="0.5" y1="11.0" x2="18" y2="11.0" stroke="#333" stroke-width="0.7"/>
<ellipse cx="18" cy="0" rx="2.8" ry="11.0" fill="url(#gHead)" stroke="#333" stroke-width="0.7"/>
</g>
<g transform="translate(185.0,380.0) rotate(6.34)">
<rect x="21" y="-10.5" width="30" height="21" fill="url(#gMetal)" stroke="#333" stroke-width="0.6"/>
<rect x="51" y="-10.5" width="61.19231422671771" height="21" fill="url(#gThread)" stroke="#222" stroke-width="0.6"/>
<rect x="51" y="-10.5" width="61.19231422671771" height="21" fill="url(#thr)"/>
<ellipse cx="112.19231422671771" cy="0" rx="2.9" ry="10.5" fill="#9a9a9a" stroke="#333" stroke-width="0.6"/>
<ellipse cx="0.5" cy="0" rx="3.3" ry="15.0" fill="url(#gHead)" stroke="#333" stroke-width="0.7"/>
<rect x="0.5" y="-15.0" width="21.5" height="30" fill="url(#gHead)"/>
<line x1="0.5" y1="-15.0" x2="22" y2="-15.0" stroke="#333" stroke-width="0.7"/><line x1="0.5" y1="15.0" x2="22" y2="15.0" stroke="#333" stroke-width="0.7"/>
<ellipse cx="22" cy="0" rx="3.8" ry="15.0" fill="url(#gHead)" stroke="#333" stroke-width="0.7"/>
</g>
<g transform="translate(135.0,398.8) rotate(7.02)">
<rect x="12" y="-4.5" width="150.7261433003294" height="9" fill="url(#gMetal)" stroke="#333" stroke-width="0.6"/>
<rect x="151.7261433003294" y="-4.5" width="11" height="9" fill="url(#gThread)" stroke="#333" stroke-width="0.6"/>
<ellipse cx="157.7261433003294" cy="0" rx="1.6" ry="1.6" fill="#222"/>
<ellipse cx="162.7261433003294" cy="0" rx="1.3" ry="4.5" fill="#888" stroke="#333" stroke-width="0.6"/>
<ellipse cx="0.5" cy="0" rx="1.9" ry="7.5" fill="url(#gHead)" stroke="#333" stroke-width="0.7"/>
<rect x="0.5" y="-7.5" width="12.5" height="15" fill="url(#gHead)"/>
<line x1="0.5" y1="-7.5" x2="13" y2="-7.5" stroke="#333" stroke-width="0.7"/><line x1="0.5" y1="7.5" x2="13" y2="7.5" stroke="#333" stroke-width="0.7"/>
<ellipse cx="13" cy="0" rx="1.5" ry="7.5" fill="url(#gHead)" stroke="#333" stroke-width="0.7"/>
</g>
<g transform="translate(124.2,507.8) rotate(6.62)">
<rect x="12" y="-5.0" width="150.8437441588784" height="10" fill="url(#gMetal)" stroke="#333" stroke-width="0.6"/>
<rect x="151.8437441588784" y="-5.0" width="11" height="10" fill="url(#gThread)" stroke="#333" stroke-width="0.6"/>
<ellipse cx="157.8437441588784" cy="0" rx="1.6" ry="1.6" fill="#222"/>
<ellipse cx="162.8437441588784" cy="0" rx="1.5" ry="5.0" fill="#888" stroke="#333" stroke-width="0.6"/>
<ellipse cx="0.5" cy="0" rx="1.9" ry="7.75" fill="url(#gHead)" stroke="#333" stroke-width="0.7"/>
<rect x="0.5" y="-7.75" width="12.5" height="15.5" fill="url(#gHead)"/>
<line x1="0.5" y1="-7.75" x2="13" y2="-7.75" stroke="#333" stroke-width="0.7"/><line x1="0.5" y1="7.75" x2="13" y2="7.75" stroke="#333" stroke-width="0.7"/>
<ellipse cx="13" cy="0" rx="1.6" ry="7.75" fill="url(#gHead)" stroke="#333" stroke-width="0.7"/>
</g>
<g transform="translate(168.0,539.3) rotate(5.97)">
<rect x="21" y="-11.0" width="31" height="22" fill="url(#gMetal)" stroke="#333" stroke-width="0.6"/>
<rect x="52" y="-11.0" width="61.37076768125674" height="22" fill="url(#gThread)" stroke="#222" stroke-width="0.6"/>
<rect x="52" y="-11.0" width="61.37076768125674" height="22" fill="url(#thr)"/>
<ellipse cx="113.37076768125674" cy="0" rx="3.1" ry="11.0" fill="#9a9a9a" stroke="#333" stroke-width="0.6"/>
<ellipse cx="0.5" cy="0" rx="3.5" ry="16.0" fill="url(#gHead)" stroke="#333" stroke-width="0.7"/>
<rect x="0.5" y="-16.0" width="21.5" height="32" fill="url(#gHead)"/>
<line x1="0.5" y1="-16.0" x2="22" y2="-16.0" stroke="#333" stroke-width="0.7"/><line x1="0.5" y1="16.0" x2="22" y2="16.0" stroke="#333" stroke-width="0.7"/>
<ellipse cx="22" cy="0" rx="4.0" ry="16.0" fill="url(#gHead)" stroke="#333" stroke-width="0.7"/>
</g>
<g transform="translate(252.7,578.5) rotate(6.85)">
<rect x="18" y="-6.5" width="63.13673051686439" height="13" fill="url(#gThread)" stroke="#222" stroke-width="0.6"/>
<rect x="18" y="-6.5" width="63.13673051686439" height="13" fill="url(#thr)"/>
<ellipse cx="81.13673051686439" cy="0" rx="1.8" ry="6.5" fill="#9a9a9a" stroke="#333" stroke-width="0.6"/>
<ellipse cx="0.5" cy="0" rx="2.5" ry="11.5" fill="url(#gHead)" stroke="#333" stroke-width="0.7"/>
<rect x="0.5" y="-11.5" width="17.5" height="23" fill="url(#gHead)"/>
<line x1="0.5" y1="-11.5" x2="18" y2="-11.5" stroke="#333" stroke-width="0.7"/><line x1="0.5" y1="11.5" x2="18" y2="11.5" stroke="#333" stroke-width="0.7"/>
<ellipse cx="18" cy="0" rx="2.9" ry="11.5" fill="url(#gHead)" stroke="#333" stroke-width="0.7"/>
</g>
<g transform="translate(13.0,484.5) rotate(4.00)">
<rect x="33" y="-12.5" width="28" height="27" fill="url(#gThread)" stroke="#333" stroke-width="0.7"/>
<rect x="33" y="-12.5" width="28" height="27" fill="url(#thr)"/>
<ellipse cx="61" cy="1" rx="2.5" ry="13.5" fill="#777" stroke="#333" stroke-width="0.6"/>
<rect x="20" y="-9" width="14" height="19" fill="url(#gMetal)" stroke="#333" stroke-width="0.6"/>
<ellipse cx="27" cy="4" rx="2.2" ry="2.2" fill="#333"/>
<rect x="11" y="-11" width="10" height="23" rx="2" fill="url(#gHead)" stroke="#333" stroke-width="0.6"/>
<path d="M 4,-18 L 13,-17 L 17,-11 L 16,12 L 12,18 L 3,17.5 L 0,12 L 0,-12 Z" fill="#c4c4c4" stroke="#333" stroke-width="0.8"/>
<path d="M 0,-3 L 15,-3 L 16,12 L 12,18 L 3,17.5 L 0,12 Z" fill="#a9a9a9" stroke="#444" stroke-width="0.5"/>
</g>
<ellipse cx="85" cy="493.5" rx="5.3" ry="16.5" fill="#c57a45" stroke="#222" stroke-width="0.9" transform="rotate(8 85 493.5)"/>
<ellipse cx="86" cy="493.5" rx="2.6" ry="13" fill="#fff" stroke="#333" stroke-width="0.6" transform="rotate(8 86 493.5)"/>
<ellipse cx="101.5" cy="494.3" rx="5.3" ry="16" fill="#c57a45" stroke="#222" stroke-width="0.9" transform="rotate(8 101.5 494.3)"/>
<ellipse cx="102.5" cy="494.3" rx="2.6" ry="12.5" fill="#fff" stroke="#333" stroke-width="0.6" transform="rotate(8 102.5 494.3)"/>
<line x1="149.4" y1="451.5" x2="254.4" y2="461.5" stroke="#333" stroke-width="4.2"/>
<line x1="149.4" y1="451.5" x2="254.4" y2="461.5" stroke="#9a9a9a" stroke-width="2.6"/>
<path d="M 148,446 C 152,440 160,439 165,443 C 168,446 170,447 172,446.5 L 186,444" fill="none" stroke="#333" stroke-width="4.6" stroke-linejoin="round" />
<path d="M 148,446 C 152,440 160,439 165,443 C 168,446 170,447 172,446.5 L 186,444" fill="none" stroke="#aaa" stroke-width="3" stroke-linejoin="round" />
<ellipse cx="137.8" cy="455" rx="6" ry="14" fill="none" stroke="#333" stroke-width="4" transform="rotate(25 137.8 455)"/>
<ellipse cx="137.8" cy="455" rx="6" ry="14" fill="none" stroke="#b5b5b5" stroke-width="2.4" transform="rotate(25 137.8 455)"/>
<ellipse cx="727.4" cy="642.3" rx="6.5" ry="12.2" fill="#222" stroke="#000" stroke-width="0.9" transform="rotate(8 727.4 642.3)"/>
<ellipse cx="728.6" cy="642.3" rx="3.6" ry="8" fill="#3a3a3a" stroke="#000" stroke-width="0.6" transform="rotate(8 728.6 642.3)"/>
<ellipse cx="729.3" cy="642.5" rx="2" ry="5.5" fill="#111" transform="rotate(8 729.3 642.5)"/>
<ellipse cx="936.5" cy="501.5" rx="2.7" ry="8.5" fill="#222" stroke="#000" stroke-width="0.6" transform="rotate(10 936.5 501.5)"/>
<ellipse cx="937" cy="501.5" rx="1" ry="5" fill="#888"/>
<ellipse cx="926.6" cy="607" rx="2.7" ry="8.5" fill="#222" stroke="#000" stroke-width="0.6" transform="rotate(10 926.6 607)"/>
<ellipse cx="927" cy="607" rx="1" ry="5" fill="#888"/>
<polygon points="958.0,499.0 965.0,496.5 969.0,499.0 969.0,509.0 962.0,512.0 958.0,509.0" fill="#a5aaa5" stroke="#222" stroke-width="0.7" stroke-linejoin="round" />
<ellipse cx="967.5" cy="504" rx="1.8" ry="5.5" fill="#777" stroke="#222" stroke-width="0.5"/>
<polygon points="948.0,603.0 955.0,600.5 959.0,603.0 959.0,614.0 952.0,617.0 948.0,614.0" fill="#a5aaa5" stroke="#222" stroke-width="0.7" stroke-linejoin="round" />
<ellipse cx="957.5" cy="608.5" rx="1.8" ry="5.5" fill="#777" stroke="#222" stroke-width="0.5"/>
<path d="M 970.5,520 L 971.5,495 C 972,485 983,484 984,492 C 984.5,497 982.5,500 981,503 L 977.5,518" fill="none" stroke="#222" stroke-width="3.2" stroke-linejoin="round" />
<path d="M 970.5,520 L 971.5,495 C 972,485 983,484 984,492 C 984.5,497 982.5,500 981,503 L 977.5,518" fill="none" stroke="#b9b9b9" stroke-width="1.7" stroke-linejoin="round" />
<path d="M 963.5,628 L 958.5,601 C 957,592 968.5,589 970.5,597 C 971.5,602 969.5,605 968.5,607 L 967.5,627" fill="none" stroke="#222" stroke-width="3.2" stroke-linejoin="round" />
<path d="M 963.5,628 L 958.5,601 C 957,592 968.5,589 970.5,597 C 971.5,602 969.5,605 968.5,607 L 967.5,627" fill="none" stroke="#b9b9b9" stroke-width="1.7" stroke-linejoin="round" />
<path d="M 750,139 C 742,130 733,127 730.5,133.5 C 728.5,140 736,144 745,140.5" fill="none" stroke="#222" stroke-width="2.4" stroke-linejoin="round" />
<path d="M 750,139 C 742,130 733,127 730.5,133.5 C 728.5,140 736,144 745,140.5" fill="none" stroke="#d0d0d0" stroke-width="1.3" stroke-linejoin="round" />
<g class="ld">
<line x1="182.0" y1="40.8" x2="165.6" y2="50.0"/>
<polygon class="ah" points="161.2,52.4 164.7,48.4 166.4,51.5"/>
<line x1="217.4" y1="151.3" x2="197.6" y2="93.2"/>
<polygon class="ah" points="196.0,88.5 199.3,92.7 195.9,93.8"/>
<line x1="216.4" y1="174.7" x2="191.2" y2="231.0"/>
<polygon class="ah" points="189.2,235.6 189.6,230.3 192.9,231.8"/>
<line x1="517.2" y1="60.9" x2="466.9" y2="72.8"/>
<polygon class="ah" points="462.0,74.0 466.5,71.1 467.3,74.6"/>
<line x1="906.4" y1="57.0" x2="872.8" y2="65.9"/>
<polygon class="ah" points="868.0,67.2 872.4,64.2 873.3,67.7"/>
<line x1="602.8" y1="219.8" x2="381.0" y2="214.7"/>
<polygon class="ah" points="376.0,214.6 381.0,212.9 381.0,216.5"/>
<line x1="627.8" y1="222.2" x2="885.1" y2="265.2"/>
<polygon class="ah" points="890.0,266.0 884.8,267.0 885.4,263.4"/>
<line x1="600.7" y1="252.6" x2="377.8" y2="265.5"/>
<polygon class="ah" points="372.8,265.8 377.7,263.7 377.9,267.3"/>
<line x1="625.5" y1="255.0" x2="883.2" y2="320.8"/>
<polygon class="ah" points="888.0,322.0 882.7,322.5 883.6,319.0"/>
<line x1="601.1" y1="300.1" x2="464.7" y2="350.3"/>
<polygon class="ah" points="460.0,352.0 464.1,348.6 465.3,352.0"/>
<line x1="624.2" y1="301.4" x2="795.5" y2="387.7"/>
<polygon class="ah" points="800.0,390.0 794.7,389.4 796.3,386.1"/>
<line x1="602.1" y1="334.1" x2="450.6" y2="436.7"/>
<polygon class="ah" points="446.5,439.5 449.6,435.2 451.6,438.2"/>
<line x1="622.5" y1="334.6" x2="822.0" y2="487.0"/>
<polygon class="ah" points="826.0,490.0 820.9,488.4 823.1,485.5"/>
<line x1="600.9" y1="364.7" x2="482.2" y2="443.2"/>
<polygon class="ah" points="478.0,446.0 481.2,441.7 483.2,444.7"/>
<line x1="621.4" y1="365.3" x2="781.0" y2="487.0"/>
<polygon class="ah" points="785.0,490.0 779.9,488.4 782.1,485.5"/>
<line x1="583.0" y1="637.3" x2="531.3" y2="547.6"/>
<polygon class="ah" points="528.8,543.3 532.9,546.7 529.7,548.5"/>
<line x1="599.6" y1="641.0" x2="702.9" y2="569.3"/>
<polygon class="ah" points="707.0,566.4 703.9,570.7 701.9,567.8"/>
<line x1="601.4" y1="606.5" x2="592.4" y2="579.5"/>
<polygon class="ah" points="590.8,574.8 594.1,579.0 590.7,580.1"/>
<line x1="613.7" y1="609.0" x2="631.1" y2="588.9"/>
<polygon class="ah" points="634.4,585.1 632.5,590.1 629.8,587.7"/>
<line x1="699.4" y1="655.4" x2="715.5" y2="649.2"/>
<polygon class="ah" points="720.2,647.4 716.2,650.9 714.9,647.5"/>
<line x1="85.5" y1="425.9" x2="143.2" y2="407.5"/>
<polygon class="ah" points="148.0,406.0 143.8,409.2 142.7,405.8"/>
<line x1="83.2" y1="437.8" x2="156.2" y2="498.8"/>
<polygon class="ah" points="160.0,502.0 155.0,500.2 157.3,497.4"/>
<line x1="269.5" y1="455.3" x2="231.8" y2="399.2"/>
<polygon class="ah" points="229.0,395.0 233.3,398.1 230.3,400.2"/>
<line x1="267.8" y1="475.0" x2="215.4" y2="530.4"/>
<polygon class="ah" points="212.0,534.0 214.1,529.1 216.7,531.6"/>
<line x1="306.4" y1="455.8" x2="321.2" y2="357.9"/>
<polygon class="ah" points="322.0,353.0 323.0,358.2 319.5,357.7"/>
<line x1="304.9" y1="480.8" x2="307.9" y2="583.0"/>
<polygon class="ah" points="308.0,588.0 306.1,583.1 309.7,582.9"/>
<line x1="43.3" y1="440.9" x2="50.8" y2="471.1"/>
<polygon class="ah" points="52.0,476.0 49.0,471.6 52.5,470.7"/>
<line x1="88.1" y1="552.0" x2="84.5" y2="514.0"/>
<polygon class="ah" points="84.0,509.0 86.3,513.8 82.7,514.1"/>
<line x1="92.0" y1="552.2" x2="99.9" y2="515.9"/>
<polygon class="ah" points="101.0,511.0 101.7,516.3 98.2,515.5"/>
<line x1="934.9" y1="541.4" x2="936.7" y2="515.0"/>
<polygon class="ah" points="937.0,510.0 938.5,515.1 934.9,514.9"/>
<line x1="933.0" y1="566.6" x2="929.4" y2="612.0"/>
<polygon class="ah" points="929.0,617.0 927.6,611.9 931.2,612.2"/>
<line x1="960.7" y1="541.0" x2="962.6" y2="520.0"/>
<polygon class="ah" points="963.0,515.0 964.4,520.1 960.8,519.8"/>
<line x1="958.6" y1="566.2" x2="956.4" y2="593.0"/>
<polygon class="ah" points="956.0,598.0 954.6,592.9 958.2,593.2"/>
<line x1="985.3" y1="547.5" x2="980.7" y2="513.0"/>
<polygon class="ah" points="980.0,508.0 982.5,512.7 978.9,513.2"/>
<line x1="981.6" y1="571.4" x2="972.1" y2="591.5"/>
<polygon class="ah" points="970.0,596.0 970.5,590.7 973.8,592.2"/>
<line x1="127.5" y1="439.7" x2="130.2" y2="440.5"/>
<polygon class="ah" points="135.0,442.0 129.7,442.2 130.8,438.8"/>
</g>
<g class="co">
<circle cx="193" cy="34.7" r="12.6"/><text x="193" y="39.3">18</text>
<circle cx="221.5" cy="163.2" r="12.6"/><text x="221.5" y="167.8">19</text>
<circle cx="529.5" cy="58" r="12.6"/><text x="529.5" y="62.6">20</text>
<circle cx="918.6" cy="53.8" r="12.6"/><text x="918.6" y="58.4">21</text>
<circle cx="615.4" cy="220.1" r="12.6"/><text x="615.4" y="224.7">8</text>
<circle cx="613.3" cy="251.9" r="12.6"/><text x="613.3" y="256.5">7</text>
<circle cx="612.9" cy="295.7" r="12.6"/><text x="612.9" y="300.3">1</text>
<circle cx="612.5" cy="327" r="12.6"/><text x="612.5" y="331.6">5</text>
<circle cx="611.4" cy="357.7" r="12.6"/><text x="611.4" y="362.3">4</text>
<circle cx="40.25" cy="428.7" r="12.6"/><text x="40.25" y="433.3">12</text>
<circle cx="73.5" cy="429.75" r="12.6"/><text x="73.5" y="434.4">9</text>
<circle cx="115.5" cy="436" r="12.6"/><text x="115.5" y="440.6">17</text>
<circle cx="276.5" cy="465.8" r="12.6"/><text x="276.5" y="470.4">10</text>
<circle cx="304.5" cy="468.25" r="12.6"/><text x="304.5" y="472.9">11</text>
<circle cx="89.25" cy="564.5" r="12.6"/><text x="89.25" y="569.1">13</text>
<circle cx="934" cy="554" r="12.6"/><text x="934" y="558.6">14</text>
<circle cx="959.6" cy="553.6" r="12.6"/><text x="959.6" y="558.2">15</text>
<circle cx="987" cy="560" r="12.6"/><text x="987" y="564.6">16</text>
<circle cx="605.4" cy="618.5" r="12.6"/><text x="605.4" y="623.1">3</text>
<circle cx="589.3" cy="648.2" r="12.6"/><text x="589.3" y="652.8">2</text>
<circle cx="687.6" cy="659.9" r="12.6"/><text x="687.6" y="664.5">6</text>
</g>
<g class="lst">
<text x="37.6" y="640.8">1.</text><text x="59.4" y="640.8">KB1001</text>
<text x="37.6" y="664.0">2.</text><text x="59.4" y="664.0">KB1100</text>
<text x="37.6" y="687.1">3.</text><text x="59.4" y="687.1">KB1200,</text>
<text x="37.6" y="710.3">4.</text><text x="59.4" y="710.3">KB1101</text>
<text x="37.6" y="733.5">5.</text><text x="59.4" y="733.5">KB1102</text>
<text x="37.6" y="756.6">6.</text><text x="59.4" y="756.6">KB1103</text>
<text x="37.6" y="779.8">7.</text><text x="59.4" y="779.8">KB1300</text>
<text x="37.6" y="803.0">8.</text><text x="59.4" y="803.0">KB1301</text>
<text x="37.6" y="826.2">9.</text><text x="59.4" y="826.2">KB1302</text>
<text x="339.6" y="687.1">10.</text><text x="373" y="687.1">KB1303</text>
<text x="339.6" y="710.3">11.</text><text x="373" y="710.3">KB1304</text>
<text x="339.6" y="733.5">12.</text><text x="373" y="733.5">KB1305</text>
<text x="339.6" y="756.6">13.</text><text x="373" y="756.6">KB1306</text>
<text x="339.6" y="779.8">14.</text><text x="373" y="779.8">KB1307</text>
<text x="339.6" y="803.0">15.</text><text x="373" y="803.0">KB1307</text>
<text x="339.6" y="826.2">16.</text><text x="373" y="826.2">KB1320</text>
<text x="625" y="732.0">17.</text><text x="657.8" y="732.0">KB1321</text>
<text x="625" y="754.8">18.</text><text x="657.8" y="754.8">KL1404,</text>
<text x="625" y="777.6">19.</text><text x="657.8" y="777.6">KL1401</text>
<text x="625" y="800.4">20.</text><text x="657.8" y="800.4">KB1104</text>
<text x="625" y="823.2">21.</text><text x="657.8" y="823.2">KB1000</text>
<text x="135.7" y="687.1">KB1201,</text><text x="212.7" y="687.1">KB1202</text>
<text x="729" y="754.8">KL1404A,</text><text x="812.2" y="754.8">KL1404B</text>
</g>
</svg>
</body></html>
